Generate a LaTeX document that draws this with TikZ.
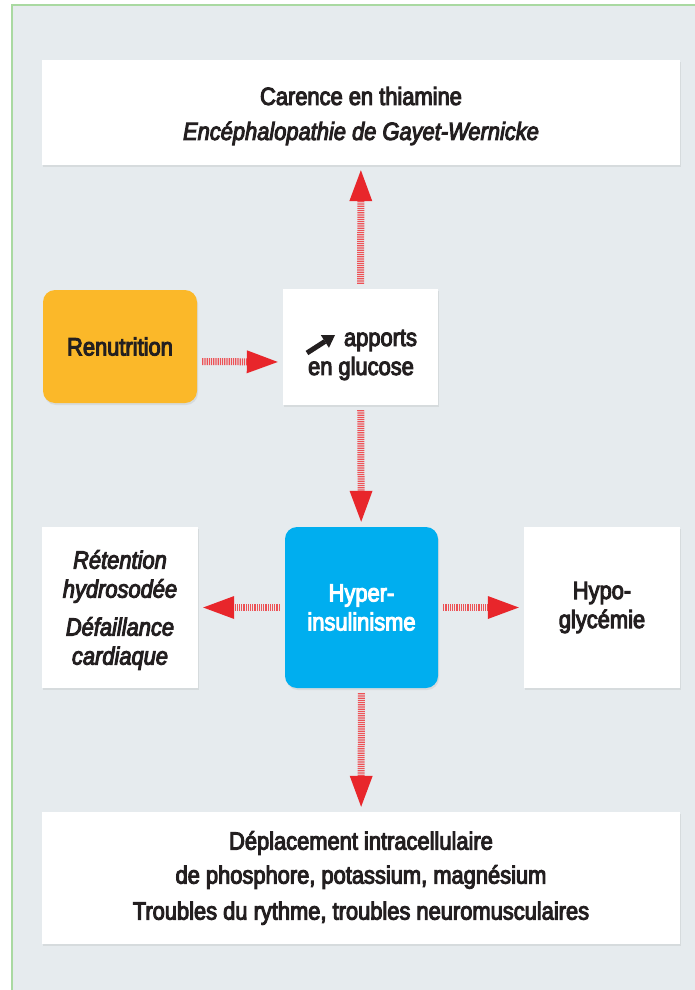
\documentclass[tikz,border=0pt]{standalone}
\usepackage{fontspec}
\setmainfont{Liberation Sans}[FakeStretch=0.875,FakeBold=4]
\usetikzlibrary{arrows.meta,shadows}
\definecolor{fond}{HTML}{E6EBEE}
\definecolor{cadre}{HTML}{A9D9A1}
\definecolor{orangebox}{HTML}{FBB829}
\definecolor{bleubox}{HTML}{00AEEF}
\definecolor{rouge}{HTML}{E8262B}
\definecolor{texte}{HTML}{231F20}
\tikzset{
  boite/.style={fill=white, text=texte, align=center, inner sep=0pt,
    font=\fontsize{25}{29}\selectfont,
    drop shadow={shadow xshift=1pt, shadow yshift=-2pt, opacity=0.15}},
  texteboite/.style={text=texte, align=center, inner sep=0pt,
    font=\fontsize{25}{29}\selectfont},
  fleche/.style={line width=7pt, rouge!80, dash pattern=on 1.2pt off 1pt,
    -{Triangle[length=31pt,width=23pt,line width=0pt,fill=rouge,color=rouge]},
    shorten <=5pt, shorten >=5pt}
}

\begin{document}
\begin{tikzpicture}[x=1pt,y=-1pt]
\useasboundingbox (0,0) rectangle (694,990);
\fill[white] (0,0) rectangle (694,990);
\draw[cadre, line width=1.5pt, fill=fond] (12,5) rectangle (720,1020);

% boites
\node[boite, minimum width=638pt, minimum height=105pt] (carence) at (361,112.5) {};
\node[texteboite] (carencetexte) at (361,116)
  {Carence en thiamine\\[6pt]\textit{Encéphalopathie de Gayet-Wernicke}};
\node[boite, fill=orangebox, rounded corners=12pt, minimum width=154pt, minimum height=113pt]
  (renut) at (120,346.5) {Renutrition};
\node[boite, minimum width=155pt, minimum height=116pt] (apports) at (360.5,347) {};
\node[texteboite] (apportstexte) at (361,355) {\hspace*{39pt}apports\\en glucose};
\node[boite, fill=bleubox, text=white, rounded corners=12pt, minimum width=153pt,
  minimum height=161pt] (hyper) at (361.5,607.5) {Hyper-\\insulinisme};
\node[boite, minimum width=156pt, minimum height=161pt] (retention) at (120,607.5) {};
\node[texteboite, font=\fontsize{25}{29}\selectfont\itshape] (retentiontexte) at (120,610)
  {Rétention\\hydrosodée\\[9pt]Défaillance\\cardiaque};
\node[boite, minimum width=156pt, minimum height=161pt] (hypo) at (602,607.5)
  {Hypo-\\glycémie};
\node[boite, minimum width=638pt, minimum height=132pt] (deplacement) at (361,878)
  {Déplacement intracellulaire\\[5pt]de phosphore, potassium, magnésium\\[7pt]Troubles du rythme, troubles neuromusculaires};

% petite fleche devant apports
\draw[texte, line width=5pt, -{Triangle[length=12pt,width=15pt,line width=0pt]}]
  ([shift={(-54pt,2pt)}]apportstexte.center) -- ([shift={(-26pt,20pt)}]apportstexte.center);

% fleches
\draw[fleche] ([yshift=-15pt]renut.east) -- ([yshift=-15pt]apports.west);
\draw[fleche] (apports) -- (carence);
\draw[fleche] (apports) -- (hyper);
\draw[fleche] (hyper) -- (retention);
\draw[fleche] (hyper) -- (hypo);
\draw[fleche] (hyper) -- (deplacement);

\end{tikzpicture}
\end{document}
